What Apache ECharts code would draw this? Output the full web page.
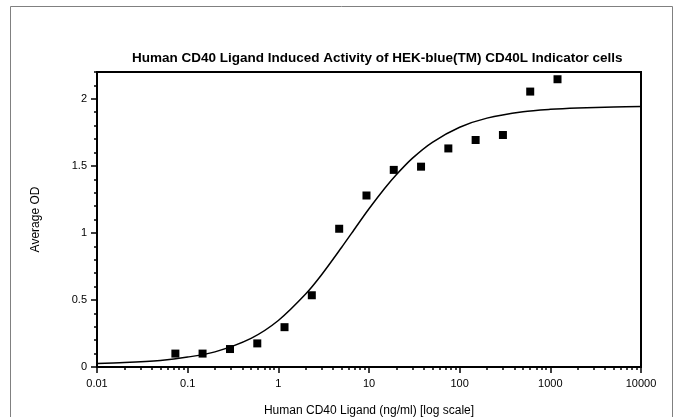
<!DOCTYPE html>
<html>
<head>
<meta charset="utf-8">
<script src="https://cdn.jsdelivr.net/npm/echarts@6/dist/echarts.min.js"></script>
<style>
html,body{margin:0;padding:0;background:#fff;}
#c{width:681px;height:417px;}
</style>
</head>
<body>
<div id="c"></div>
<script>
// Measured points (dose in ng/ml, average OD)
const doses = [0.0732, 0.146, 0.293, 0.586, 1.17, 2.34, 4.69, 9.38, 18.75, 37.5, 75, 150, 300, 600, 1200];
const avgOD = [0.10, 0.10, 0.134, 0.176, 0.297, 0.535, 1.031, 1.279, 1.47, 1.494, 1.63, 1.693, 1.73, 2.054, 2.146];
// Fitted curve
const curveX = [0.01, 0.02, 0.05, 0.1, 0.2, 0.5, 1, 2, 3, 5, 7, 10, 15, 20, 30, 50, 100, 200, 500, 1000, 2000, 5000, 10000];
const curveY = [0.027, 0.033, 0.049, 0.074, 0.113, 0.214, 0.347, 0.544, 0.688, 0.893, 1.033, 1.180, 1.335, 1.434, 1.556, 1.676, 1.788, 1.856, 1.904, 1.922, 1.932, 1.939, 1.942];
// Axis ticks
const xTicks = [0.01, 0.1, 1, 10, 100, 1000, 10000];
const xTickLabels = ['0.01', '0.1', '1', '10', '100', '1000', '10000'];
const xMinorMult = [2, 3, 4, 5, 6, 7, 8, 9];
const yTicks = [0, 0.5, 1, 1.5, 2];
const yTickLabels = ['0', '0.5', '1', '1.5', '2'];
const yMinor = [0.1, 0.2, 0.3, 0.4, 0.6, 0.7, 0.8, 0.9, 1.1, 1.2, 1.3, 1.4, 1.6, 1.7, 1.8, 1.9, 2.1, 2.2];

const FONT = '"Liberation Sans", Arial, sans-serif';
const xMinorLog = [];
for (let i = 0; i < xTicks.length - 1; i++) {
  xMinorMult.forEach(m => xMinorLog.push(Math.log10(xTicks[i] * m)));
}

const chart = echarts.init(document.getElementById('c'), null, {renderer: 'canvas'});
chart.setOption({
  animation: false,
  backgroundColor: '#fff',
  title: {
    text: 'Human CD40 Ligand Induced Activity of HEK-blue(TM) CD40L Indicator cells',
    left: 127, top: 46,
    textStyle: {fontFamily: FONT, fontSize: 13.5, fontWeight: 'bold', color: '#000'}
  },
  graphic: [{
    type: 'rect', silent: true,
    shape: {x: 10.5, y: 6.5, width: 662, height: 430},
    style: {fill: 'none', stroke: '#808080', lineWidth: 1}
  }],
  grid: {left: 97, right: 40, top: 72, bottom: 50, show: true, borderColor: '#000', borderWidth: 2,
    backgroundColor: 'transparent', containLabel: false, outerBoundsMode: 'none'},
  xAxis: [{
    type: 'log', logBase: 10, min: 0.01, max: 10000, position: 'bottom',
    name: 'Human CD40 Ligand (ng/ml) [log scale]', nameLocation: 'middle', nameGap: 38,
    nameTextStyle: {fontFamily: FONT, fontSize: 12, color: '#000'},
    axisLine: {show: true, onZero: false, lineStyle: {color: '#000', width: 2}},
    axisTick: {show: true, length: 6, lineStyle: {color: '#000', width: 1.5}},
    axisLabel: {fontFamily: FONT, fontSize: 11, color: '#000', margin: 11,
      formatter: v => { const i = xTicks.findIndex(t => Math.abs(Math.log10(t) - Math.log10(v)) < 1e-6); return i >= 0 ? xTickLabels[i] : ''; }},
    splitLine: {show: false}
  }, {
    type: 'value', min: -2, max: 4, position: 'bottom', gridIndex: 0,
    axisLine: {show: false, onZero: false},
    axisTick: {show: true, length: 3, customValues: xMinorLog, lineStyle: {color: '#000', width: 1.5}},
    axisLabel: {show: false},
    splitLine: {show: false}
  }],
  yAxis: [{
    type: 'value', min: 0, max: 2.2, position: 'left',
    name: 'Average OD', nameLocation: 'middle', nameGap: 55, nameRotate: 90,
    nameTextStyle: {fontFamily: FONT, fontSize: 12, color: '#000'},
    axisLine: {show: true, onZero: false, lineStyle: {color: '#000', width: 2}},
    axisTick: {show: true, length: 6, customValues: yTicks, lineStyle: {color: '#000', width: 1.5}},
    axisLabel: {fontFamily: FONT, fontSize: 11, color: '#000', margin: 10, customValues: yTicks,
      formatter: v => { const i = yTicks.findIndex(t => Math.abs(t - v) < 1e-9); return i >= 0 ? yTickLabels[i] : ''; }},
    splitLine: {show: false}
  }, {
    type: 'value', min: 0, max: 2.2, position: 'left',
    axisLine: {show: false, onZero: false},
    axisTick: {show: true, length: 3, customValues: yMinor, lineStyle: {color: '#000', width: 1.5}},
    axisLabel: {show: false},
    splitLine: {show: false}
  }],
  series: [{
    type: 'line', xAxisIndex: 0, yAxisIndex: 0,
    data: curveX.map((x, i) => [x, curveY[i]]),
    showSymbol: false, smooth: 0.3,
    lineStyle: {color: '#000', width: 1.5},
    z: 2
  }, {
    type: 'scatter', xAxisIndex: 0, yAxisIndex: 0,
    data: doses.map((x, i) => [x, avgOD[i]]),
    symbol: 'rect', symbolSize: 8,
    itemStyle: {color: '#000', opacity: 1},
    z: 3
  }]
});
</script>
</body>
</html>
